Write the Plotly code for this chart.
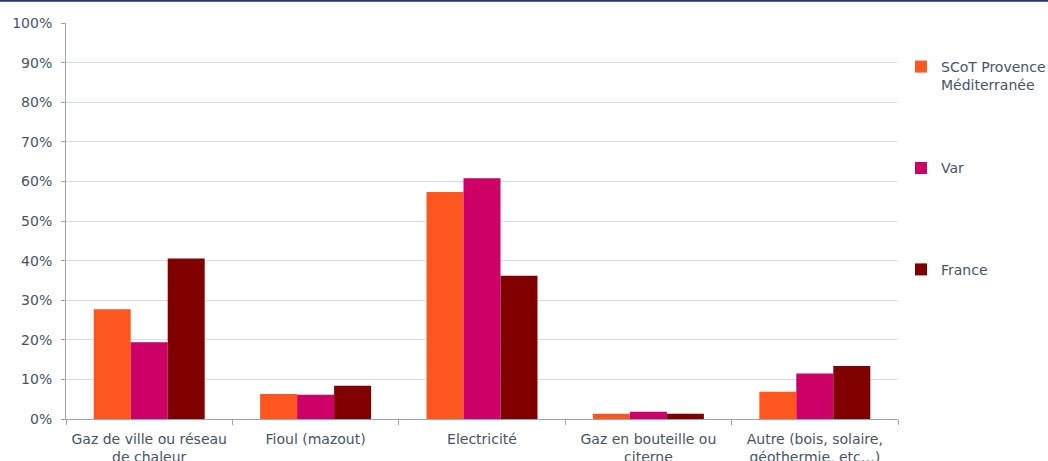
import plotly.graph_objects as go

categories = [
    "Gaz de ville ou réseau<br>de chaleur",
    "Fioul (mazout)",
    "Electricité",
    "Gaz en bouteille ou<br>citerne",
    "Autre (bois, solaire,<br>géothermie, etc…)",
]
scot = [0.277, 0.063, 0.573, 0.013, 0.069]
var = [0.194, 0.061, 0.608, 0.018, 0.115]
france = [0.405, 0.084, 0.362, 0.013, 0.134]

# second blank line keeps every legend entry the same height
series = [
    ("SCoT Provence<br>Méditerranée", scot, "#FF5620"),
    ("Var<br> ", var, "#CC0066"),
    ("France<br> ", france, "#800000"),
]

TXT = "#44546A"
AXIS = "#9BA3B5"
L, R, T, B = 66, 150, 23, 42
PW, PH = 1048 - L - R, 461 - T - B

fig = go.Figure()
for i, (name, vals, col) in enumerate(series):
    fig.add_trace(go.Bar(
        x=categories, y=vals, name=name, legendgroup=str(i),
        marker=dict(color=col, line=dict(width=0)),
    ))

fig.update_layout(
    width=1048, height=461,
    margin=dict(l=L, r=R, t=T, b=B, autoexpand=False),
    paper_bgcolor="white", plot_bgcolor="white",
    font=dict(family="DejaVu Sans, Verdana, sans-serif", size=14, color=TXT),
    barmode="group", bargap=0.333, bargroupgap=0,
    legend=dict(x=1 + 3 / PW, y=1 - 28 / PH, xanchor="left", yanchor="top",
                tracegroupgap=62, valign="top",
                font=dict(size=14, color=TXT), itemwidth=30),
    showlegend=True,
)
fig.update_xaxes(
    showline=True, linecolor=AXIS, linewidth=1,
    ticks="outside", tickson="boundaries", ticklen=5, tickcolor=AXIS,
    ticklabelstandoff=7, showgrid=False,
)
fig.update_yaxes(
    range=[0, 1], dtick=0.1, tickformat=".0%",
    showline=True, linecolor=AXIS, linewidth=1,
    ticks="outside", ticklen=4, tickcolor=AXIS, ticklabelstandoff=6,
    showgrid=True, gridcolor="#DCDCDC", gridwidth=1, zeroline=False,
)
fig.add_shape(type="line", xref="paper", yref="paper",
              x0=-L / PW, x1=1 + R / PW, y0=1 + (T - 0.8) / PH, y1=1 + (T - 0.8) / PH,
              line=dict(color="#1F3864", width=2))

fig.write_html("out.html", config={"displayModeBar": False},
               post_script="document.body.style.margin='0px';")
